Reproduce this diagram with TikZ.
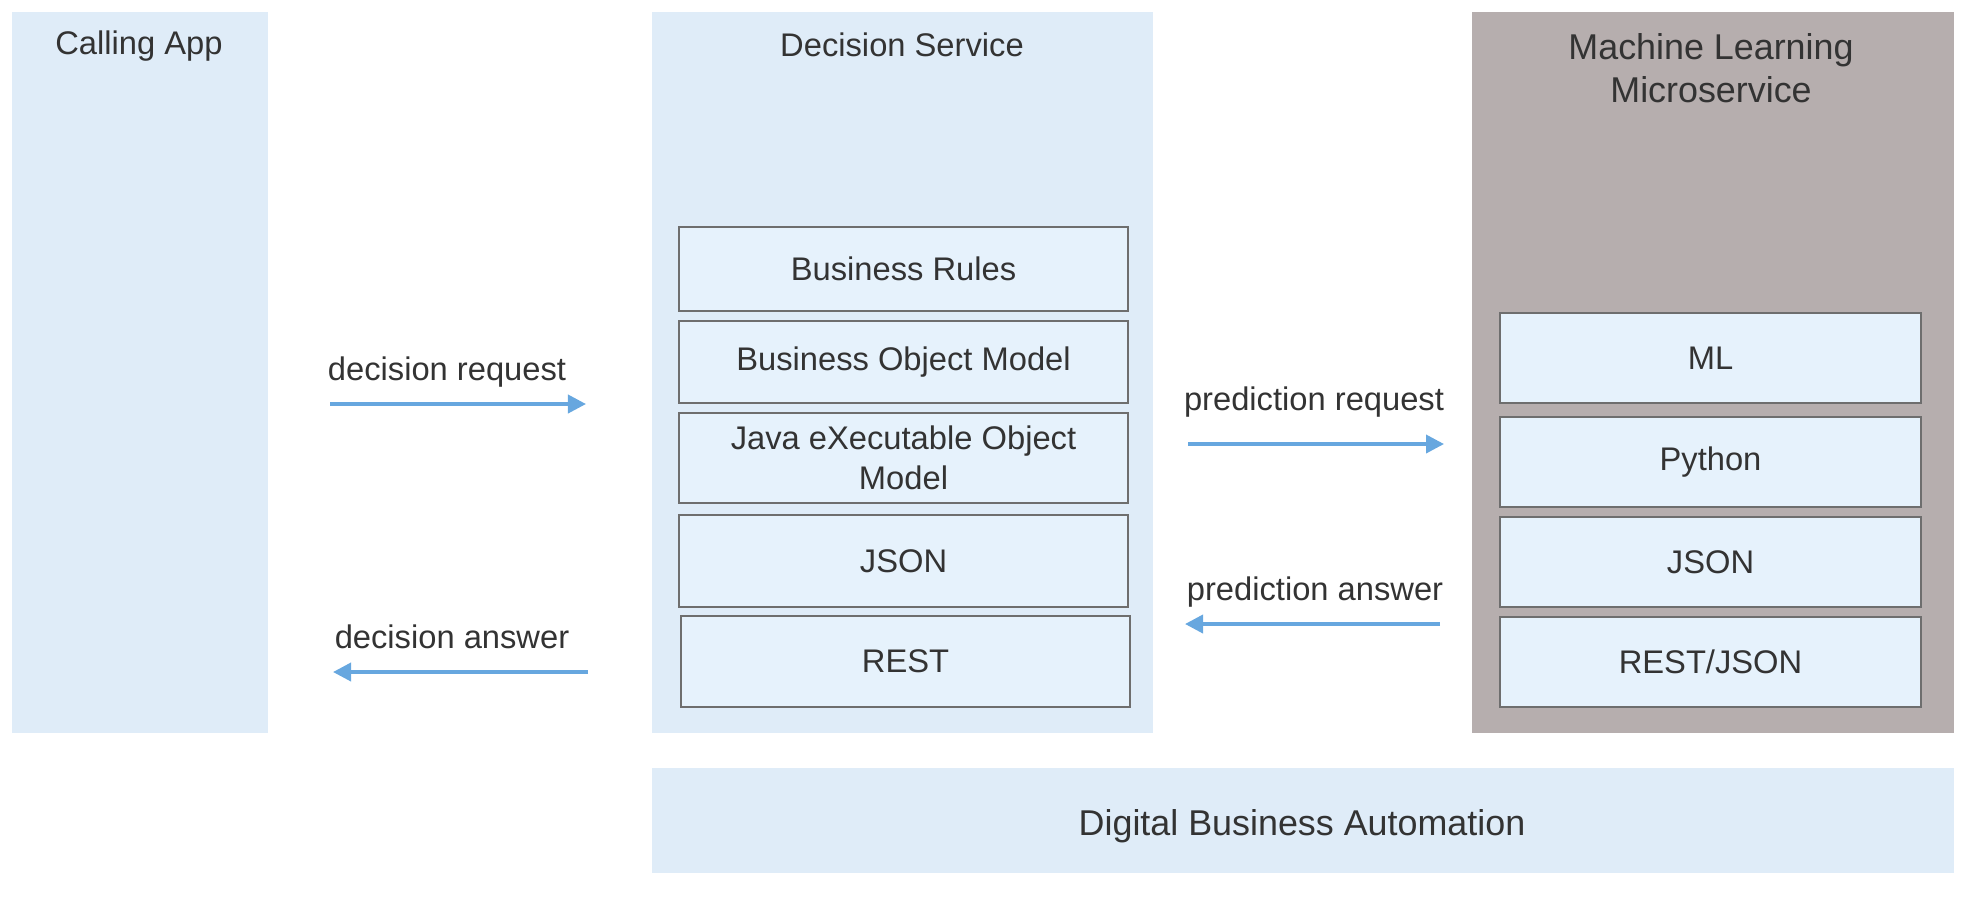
\documentclass[tikz,border=0pt]{standalone}
\usepackage{fontspec}
\setmainfont{Liberation Sans}
\usetikzlibrary{arrows.meta}

\definecolor{panelblue}{HTML}{DFECF8}
\definecolor{layerblue}{HTML}{E6F2FC}
\definecolor{mlgrey}{HTML}{B6AEAE}
\definecolor{flowblue}{HTML}{67A7DF}
\definecolor{textgrey}{HTML}{333333}
\definecolor{rimgrey}{HTML}{6E6E6E}

\begin{document}
\begin{tikzpicture}[x=0.01cm,y=-0.01cm,
  every node/.style={font=\fontsize{9.3}{11.5}\selectfont, text=textgrey},
  panel/.style={fill=panelblue, draw=none, inner sep=0pt},
  layer/.style={fill=layerblue, draw=rimgrey, line width=0.02cm, inner sep=0pt, align=center},
  flow/.style={draw=flowblue, line width=0.037cm, -{Triangle[length=0.18cm,width=0.18cm]}},
  caption/.style={inner sep=0pt, align=center},
  bigcaption/.style={caption, font=\fontsize{10.2}{12.2}\selectfont}]
\useasboundingbox (0,0) rectangle (1970,896);
% columns
\node[panel, minimum width=2.55cm, minimum height=7.2cm] (app) at (140,372.5) {};
\node[panel, minimum width=5.01cm, minimum height=7.2cm] (dsvc) at (902.5,372.5) {};
\node[panel, fill=mlgrey, minimum width=4.82cm, minimum height=7.2cm] (mlsvc) at (1713,372.5) {};
\node[panel, minimum width=13.02cm, minimum height=1.05cm] (dba) at (1303,820.5) {};
\node[caption] (apptitle) at (139,46) {Calling App};
\node[caption] (dsvctitle) at (902,45) {Decision Service};
\node[bigcaption] (mltitle) at (1711,68) {Machine Learning\\Microservice};
\node[bigcaption] (dbatitle) at (1302,826) {Digital Business Automation};
% decision service layers
\node[layer, minimum width=4.49cm, minimum height=0.84cm] (rules) at (903.5,269) {Business Rules};
\node[layer, minimum width=4.49cm, minimum height=0.82cm] (bom) at (903.5,362) {Business Object Model};
\node[layer, minimum width=4.49cm, minimum height=0.90cm] (xom) at (903.5,458) {Java eXecutable Object\\Model};
\node[layer, minimum width=4.49cm, minimum height=0.92cm] (djson) at (903.5,561) {JSON};
\node[layer, minimum width=4.49cm, minimum height=0.91cm] (drest) at (905.5,661.5) {REST};
% ML layers
\node[layer, minimum width=4.21cm, minimum height=0.90cm] (ml) at (1710.5,358) {ML};
\node[layer, minimum width=4.21cm, minimum height=0.90cm] (python) at (1710.5,462) {Python};
\node[layer, minimum width=4.21cm, minimum height=0.90cm] (mjson) at (1710.5,562) {JSON};
\node[layer, minimum width=4.21cm, minimum height=0.90cm] (mrest) at (1710.5,662) {REST/JSON};
% flows
\coordinate (dreqa) at (330,404);
\coordinate (dreqb) at (586,404);
\coordinate (dansa) at (588,672);
\coordinate (dansb) at (333,672);
\coordinate (preqa) at (1188,444);
\coordinate (preqb) at (1444,444);
\coordinate (pansa) at (1440,624);
\coordinate (pansb) at (1185,624);
\draw[flow] (dreqa) -- (dreqb);
\draw[flow] (dansa) -- (dansb);
\draw[flow] (preqa) -- (preqb);
\draw[flow] (pansa) -- (pansb);
\node[caption] (dreq) at (447,372) {decision request};
\node[caption] (dans) at (452,637) {decision answer};
\node[caption] (preq) at (1314,402) {prediction request};
\node[caption] (pans) at (1315,592) {prediction answer};
\end{tikzpicture}
\end{document}
